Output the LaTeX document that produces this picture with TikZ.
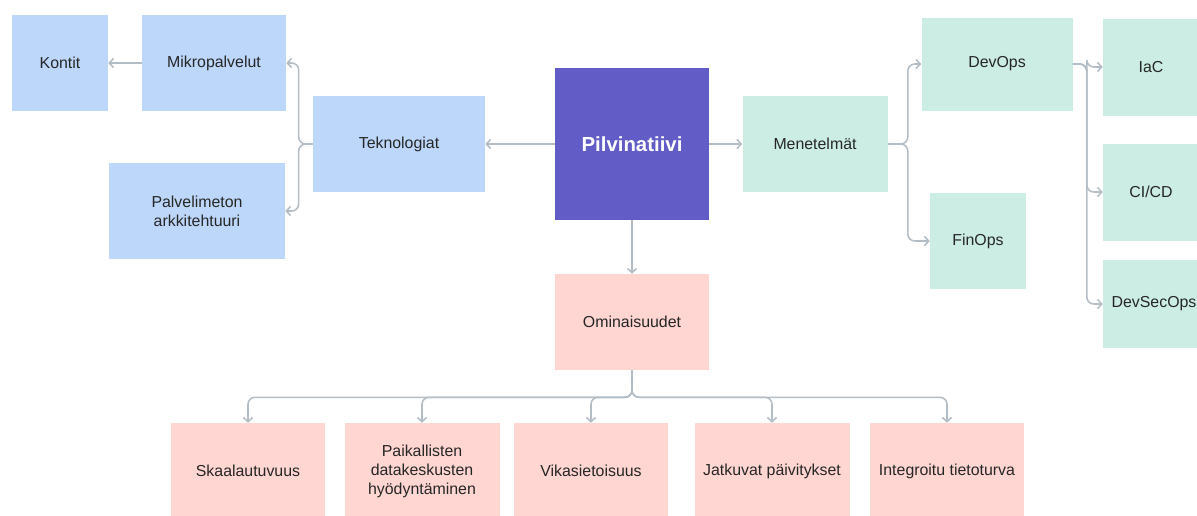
\documentclass[tikz,border=0pt]{standalone}
\usepackage{fontspec}
\setmainfont{Liberation Sans}
\usetikzlibrary{arrows.meta}
\definecolor{tekblue}{HTML}{BDD7FB}
\definecolor{metgreen}{HTML}{CCEDE3}
\definecolor{omipink}{HTML}{FFD6D2}
\definecolor{corepurple}{HTML}{615CC6}
\definecolor{linegray}{HTML}{B3BDC5}
\tikzset{
  box/.style={fill=#1, align=center, text=black!85, inner sep=2pt,
    font=\fontsize{11.3}{13.5}\selectfont},
  sz/.style 2 args={minimum width=#1*0.025cm, minimum height=#2*0.025cm},
  link/.style={draw=linegray, line width=1.1pt, rounded corners=5pt,
    -{Straight Barb[length=3pt,width=6.5pt]}},
}

\begin{document}
\begin{tikzpicture}[x=0.025cm, y=-0.025cm]
    \path[use as bounding box] (0,0) rectangle (1197,515);

    % keskus
    \node[box=corepurple,sz={154}{152},text=white,font=\fontsize{14.5}{17}\selectfont\bfseries] at (632,144) (core) {Pilvinatiivi};

    % teknologiat
    \node[box=tekblue,sz={172}{96}] at (399,144) (tek) {Teknologiat};
    \node[box=tekblue,sz={144}{96}] at (214,63) (mikro) {Mikropalvelut};
    \node[box=tekblue,sz={96}{96}] at (60,63) (kontit) {Kontit};
    \node[box=tekblue,sz={176}{96}] at (197,211) (palv) {Palvelimeton\\arkkitehtuuri};

    % menetelmat
    \node[box=metgreen,sz={145}{96}] at (815,144) (menet) {Menetelmät};
    \node[box=metgreen,sz={151}{93}] at (997,64) (devops) {DevOps};
    \node[box=metgreen,sz={96}{96}] at (978,241) (finops) {FinOps};
    \node[box=metgreen,sz={96}{97}] at (1151,67) (iac) {IaC};
    \node[box=metgreen,sz={96}{97}] at (1151,192) (cicd) {CI/CD};
    \node[box=metgreen,sz={102}{88}] at (1154,304) (devsec) {DevSecOps};

    % ominaisuudet
    \node[box=omipink,sz={154}{96}] at (632,322) (omin) {Ominaisuudet};
    \node[box=omipink,sz={154}{96}] at (248,471) (skaala) {Skaalautuvuus};
    \node[box=omipink,sz={155}{96}] at (422,471) (paik) {Paikallisten\\datakeskusten\\hyödyntäminen};
    \node[box=omipink,sz={154}{96}] at (591,471) (vika) {Vikasietoisuus};
    \node[box=omipink,sz={155}{96}] at (772,471) (jatk) {Jatkuvat päivitykset};
    \node[box=omipink,sz={154}{96}] at (947,471) (integ) {Integroitu tietoturva};

    \draw[link] (core) -- (tek);
    \draw[link] (core) -- (menet);
    \draw[link] (core) -- (omin);
    \draw[link] (mikro) -- (kontit);

    \draw[link] (tek.west) -- ++(-14,0) |- (mikro.east);
    \draw[link] (tek.west) -- ++(-14,0) |- (palv.east);

    \draw[link] (menet.east) -- ++(20,0) |- (devops.west);
    \draw[link] (menet.east) -- ++(20,0) |- (finops.west);

    \draw[link] (devops.east) -- ++(14,0) |- (iac.west);
    \draw[link] (devops.east) -- ++(14,0) |- (cicd.west);
    \draw[link] (devops.east) -- ++(14,0) |- (devsec.west);

    \foreach \t in {skaala,paik,vika,jatk,integ}
      \draw[link] (omin.south) -- ++(0,27) -| (\t.north);
\end{tikzpicture}
\end{document}
